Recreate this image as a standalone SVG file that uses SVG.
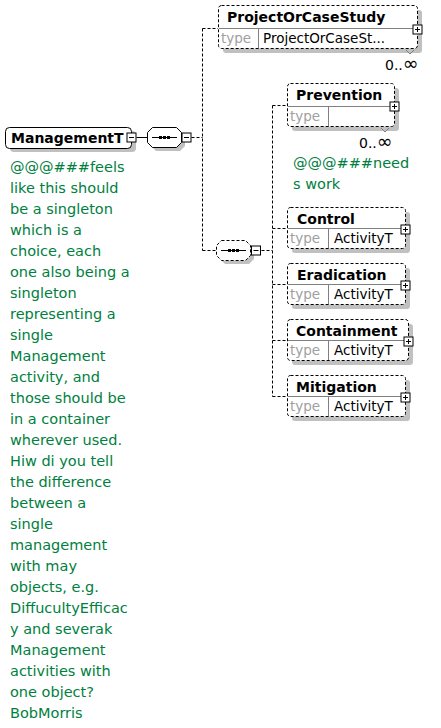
<svg xmlns="http://www.w3.org/2000/svg" width="441" height="728" viewBox="0 0 441 728">
<defs>
<style>
.conn{fill:none;stroke:#000;stroke-width:1;stroke-dasharray:3,2}
.solid{fill:none;stroke:#000;stroke-width:1}
.shadow{fill:#c0c0c0;stroke:none}
.ebox{fill:#fff;stroke:#000;stroke-width:1;stroke-dasharray:3,2}
.tbox{fill:#fff;stroke:#000;stroke-width:1}
.div{stroke:#808080;stroke-width:1}
.title{font-family:"DejaVu Sans",sans-serif;font-weight:bold;font-size:14px;fill:#000}
.typel{font-family:"DejaVu Sans",sans-serif;font-size:13.5px;fill:#a0a0a0}
.typev{font-family:"DejaVu Sans",sans-serif;font-size:13.5px;fill:#000}
.mult{font-family:"DejaVu Sans",sans-serif;font-size:14px;fill:#000}
.inf{font-size:19px}
.ann{font-family:"DejaVu Sans",sans-serif;font-size:14.5px;fill:#008040}
.pm{fill:#fff;stroke:#000;stroke-width:1}
</style>
<g id="plus"><rect class="pm" x="-4.5" y="-4.5" width="9" height="9"/><path d="M-2.5 0H2.5M0 -2.5V2.5" stroke="#000" stroke-width="1"/></g>
<g id="minus"><rect class="pm" x="-4.5" y="-4.5" width="9" height="9"/><path d="M-2.5 0H2.5" stroke="#000" stroke-width="1"/></g>
</defs>

<g id="connectors">
<path class="solid" d="M136.5 137.5H147"/>
<path class="conn" d="M191.5 137.5H202.5M202.5 28.5V250.5M202.5 28.5H218M202.5 250.5H216"/>
<path class="conn" d="M261.5 250.5H272.5M272.5 105.5V396.5M272.5 105.5H287M272.5 228.5H287M272.5 284.5H287M272.5 340.5H287M272.5 396.5H287"/>
</g>

<g id="ManagementT">
<rect class="shadow" x="10" y="131" width="126" height="21" rx="4"/>
<rect class="tbox" x="5.5" y="127.5" width="126" height="21" rx="4"/>
<text class="title" x="11" y="143" font-size="13.5">ManagementT</text>
<use href="#minus" x="131.5" y="137.5"/>
<text class="ann" x="10"><tspan x="10" y="172">@@@###feels</tspan><tspan x="10" y="193">like this should</tspan><tspan x="10" y="214">be a singleton</tspan><tspan x="10" y="235">which is a</tspan><tspan x="10" y="256">choice, each</tspan><tspan x="10" y="277">one also being a</tspan><tspan x="10" y="298">singleton</tspan><tspan x="10" y="319">representing a</tspan><tspan x="10" y="340">single</tspan><tspan x="10" y="361">Management</tspan><tspan x="10" y="382">activity, and</tspan><tspan x="10" y="403">those should be</tspan><tspan x="10" y="424">in a container</tspan><tspan x="10" y="445">wherever used.</tspan><tspan x="10" y="466">Hiw di you tell</tspan><tspan x="10" y="487">the difference</tspan><tspan x="10" y="508">between a</tspan><tspan x="10" y="529">single</tspan><tspan x="10" y="550">management</tspan><tspan x="10" y="571">with may</tspan><tspan x="10" y="592">objects, e.g.</tspan><tspan x="10" y="613">DiffucultyEfficac</tspan><tspan x="10" y="634">y and severak</tspan><tspan x="10" y="655">Management</tspan><tspan x="10" y="676">activities with</tspan><tspan x="10" y="697">one object?</tspan><tspan x="10" y="718">BobMorris</tspan></text>
</g>

<g id="sequence1">
<path class="shadow" d="M156 131H180L185 136V146L180 151H156L151 146V136Z"/>
<path fill="#fff" stroke="#000" d="M152.5 127.5H176.5L181.5 132.5V142.5L176.5 147.5H152.5L147.5 142.5V132.5Z"/>
<path class="solid" d="M152 137.5H177"/>
<rect x="159" y="136" width="3" height="3" fill="#000"/><rect x="163" y="136" width="3" height="3" fill="#000"/><rect x="167" y="136" width="3" height="3" fill="#000"/>
<use href="#minus" x="186.5" y="137.5"/>
</g>

<g id="sequence2">
<path class="shadow" d="M225 244H249L254 249V259L249 264H225L220 259V249Z"/>
<path fill="#fff" stroke="#000" stroke-dasharray="3,2" d="M221.5 240.5H245.5L250.5 245.5V255.5L245.5 260.5H221.5L216.5 255.5V245.5Z"/>
<path class="solid" d="M221 250.5H246"/>
<rect x="228" y="249" width="3" height="3" fill="#000"/><rect x="232" y="249" width="3" height="3" fill="#000"/><rect x="236" y="249" width="3" height="3" fill="#000"/>
<use href="#minus" x="256" y="250.5"/>
</g>

<g id="ProjectOrCaseStudy">
<rect class="shadow" x="223" y="10" width="199" height="43" rx="3"/>
<rect class="ebox" x="218.5" y="5.5" width="199" height="43" rx="3"/>
<line class="div" x1="219" y1="28.5" x2="417" y2="28.5"/>
<line class="div" x1="258.5" y1="29" x2="258.5" y2="48"/>
<text class="title" x="227" y="22">ProjectOrCaseStudy</text>
<text class="typel" x="221" y="43">type</text>
<text class="typev" x="263" y="43">ProjectOrCaseSt...</text>
<use href="#plus" x="417.5" y="29.5"/>
<path d="M406 50L410 54L414 50" fill="none" stroke="#808080"/>
<text class="mult" x="385" y="70">0..<tspan class="inf">∞</tspan></text>
</g>

<g id="Prevention">
<rect class="shadow" x="292" y="88" width="107" height="43" rx="3"/>
<rect class="ebox" x="287.5" y="83.5" width="107" height="43" rx="3"/>
<line class="div" x1="288" y1="106.5" x2="394" y2="106.5"/>
<line class="div" x1="328.5" y1="107" x2="328.5" y2="126"/>
<text class="title" x="296" y="100">Prevention</text>
<text class="typel" x="290" y="121">type</text>
<use href="#plus" x="394.5" y="106.5"/>
<path d="M381 128L385 132L389 128" fill="none" stroke="#808080"/>
<text class="mult" x="359" y="148">0..<tspan class="inf">∞</tspan></text>
<text class="ann"><tspan x="293" y="168">@@@###need</tspan><tspan x="293" y="189">s work</tspan></text>
</g>

<g id="Control">
<rect class="shadow" x="292" y="212" width="118" height="41" rx="3"/>
<rect class="ebox" x="287.5" y="207.5" width="118" height="41" rx="3"/>
<line class="div" x1="288" y1="228.5" x2="405" y2="228.5"/>
<line class="div" x1="328.5" y1="229" x2="328.5" y2="248"/>
<text class="title" x="297" y="224">Control</text>
<text class="typel" x="290" y="243">type</text>
<text class="typev" x="334" y="243">ActivityT</text>
<use href="#plus" x="405.5" y="229.5"/>
</g>

<g id="Eradication">
<rect class="shadow" x="292" y="268" width="118" height="41" rx="3"/>
<rect class="ebox" x="287.5" y="263.5" width="118" height="41" rx="3"/>
<line class="div" x1="288" y1="284.5" x2="405" y2="284.5"/>
<line class="div" x1="328.5" y1="285" x2="328.5" y2="304"/>
<text class="title" x="297" y="280">Eradication</text>
<text class="typel" x="290" y="299">type</text>
<text class="typev" x="334" y="299">ActivityT</text>
<use href="#plus" x="405.5" y="285.5"/>
</g>

<g id="Containment">
<rect class="shadow" x="292" y="324" width="121" height="41" rx="3"/>
<rect class="ebox" x="287.5" y="319.5" width="121" height="41" rx="3"/>
<line class="div" x1="288" y1="340.5" x2="408" y2="340.5"/>
<line class="div" x1="328.5" y1="341" x2="328.5" y2="360"/>
<text class="title" x="296" y="336">Containment</text>
<text class="typel" x="290" y="355">type</text>
<text class="typev" x="334" y="355">ActivityT</text>
<use href="#plus" x="408.5" y="341.5"/>
</g>

<g id="Mitigation">
<rect class="shadow" x="292" y="380" width="118" height="41" rx="3"/>
<rect class="ebox" x="287.5" y="375.5" width="118" height="41" rx="3"/>
<line class="div" x1="288" y1="396.5" x2="405" y2="396.5"/>
<line class="div" x1="328.5" y1="397" x2="328.5" y2="416"/>
<text class="title" x="296" y="392">Mitigation</text>
<text class="typel" x="290" y="411">type</text>
<text class="typev" x="334" y="411">ActivityT</text>
<use href="#plus" x="405.5" y="397.5"/>
</g>
</svg>
